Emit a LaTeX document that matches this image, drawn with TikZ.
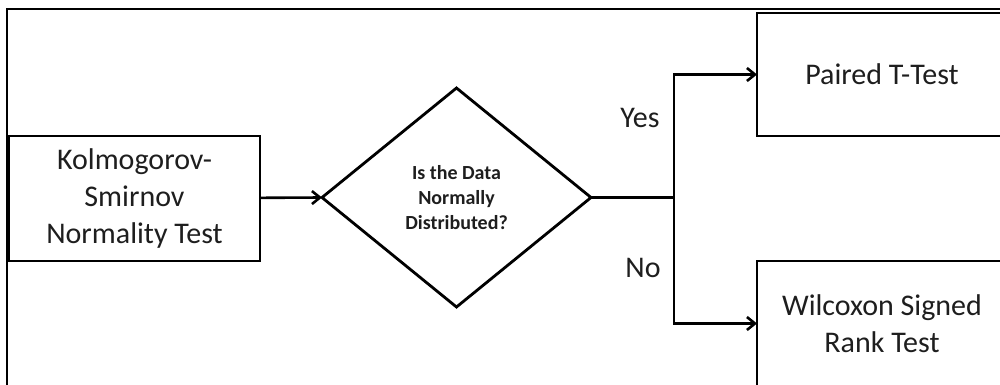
\documentclass[tikz,border=0pt]{standalone}
\usepackage{fontspec}
\setmainfont{Carlito}
\usetikzlibrary{shapes.geometric,arrows.meta}
\definecolor{ink}{HTML}{1E1E1E}
\tikzset{
  box/.style={draw=black, line width=2.8pt, rectangle, inner sep=0pt, outer sep=0pt,
              align=center, text=ink, font=\fontsize{30}{36.6}\selectfont},
  decision/.style={draw=black, line width=2.8pt, diamond, inner sep=0pt, outer sep=0pt,
              align=center, text=ink, font=\fontsize{20}{24.6}\selectfont\bfseries},
  flow/.style={line width=2.6pt, -{Straight Barb[length=8pt,width=13pt,line width=2.6pt]}},
  plain/.style={line width=2.6pt},
  answer/.style={text=ink, font=\fontsize{30}{36}\selectfont},
}
\begin{document}
\begin{tikzpicture}[x=1pt, y=-1pt]
  \useasboundingbox (0,0) rectangle (1000,385);
  \clip (0,0) rectangle (1000,385);

  % outer frame (only its top and left sides fall inside the page)
  \draw[line width=2.2pt] (7,395) -- (7,9) -- (1020,9);

  % nodes
  \node[box, minimum width=251pt, minimum height=125pt] (ks) at (134.5,198.5)
       {Kolmogorov-\\Smirnov\\Normality Test};
  \node[decision, minimum width=269pt, minimum height=219pt] (q) at (456.5,197.5)
       {Is the Data\\Normally\\Distributed?};
  \node[box, minimum width=250pt, minimum height=123pt] (pt) at (882,74.5)
       {Paired T-Test};
  \node[box, minimum width=250pt, minimum height=125pt] (wx) at (882,323.5)
       {Wilcoxon Signed\\Rank Test};

  % branch point
  \coordinate (split) at (674,197.5);

  % connectors
  \draw[flow] (ks) -- (q.west);
  \draw[plain] (q.east) -- (split);
  \draw[flow] (split) |- (pt.west);
  \draw[flow] (split) |- (wx.west);

  % branch labels
  \node[answer] (yes) at (640,118) {Yes};
  \node[answer] (no) at (643,268) {No};
\end{tikzpicture}
\end{document}
